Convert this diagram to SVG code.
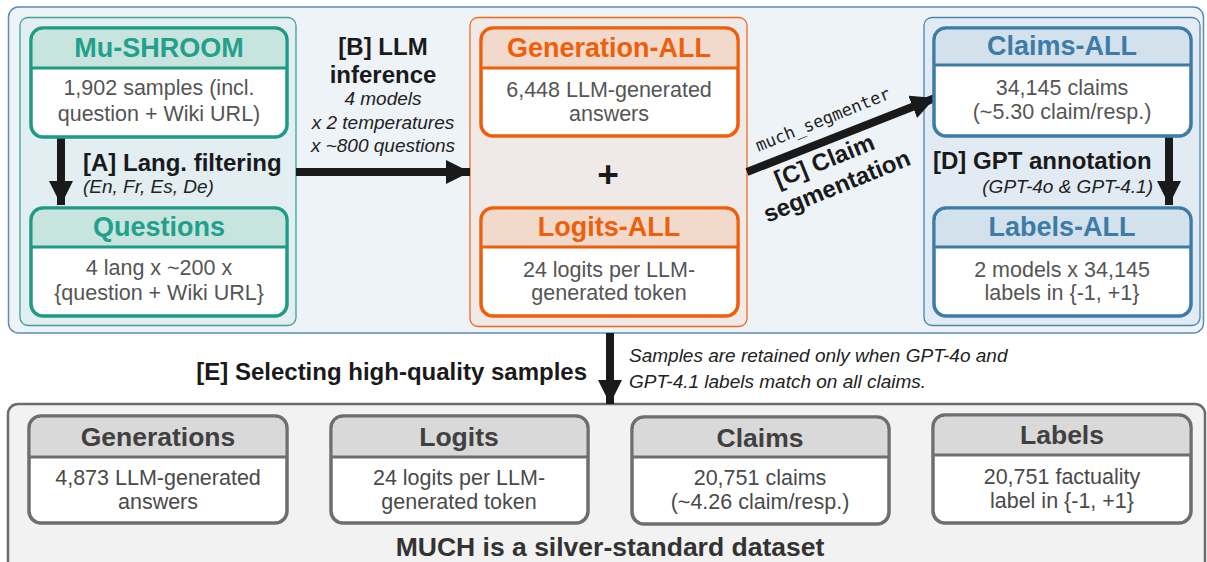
<svg xmlns="http://www.w3.org/2000/svg" width="1207" height="562" viewBox="0 0 1207 562">
<defs>
<style>
.t{font-family:"Liberation Sans",Arial,sans-serif;font-weight:bold;font-size:27px;text-anchor:middle}
.b{font-family:"Liberation Sans",Arial,sans-serif;font-size:21.5px;fill:#555;text-anchor:middle}
.lb{font-family:"Liberation Sans",Arial,sans-serif;font-weight:bold;font-size:24px;fill:#1a1a1a}
.it{font-family:"Liberation Sans",Arial,sans-serif;font-style:italic;font-size:19px;fill:#222}
.gt{font-family:"Liberation Sans",Arial,sans-serif;font-weight:bold;font-size:26.5px;fill:#404040;text-anchor:middle}
.gb{font-family:"Liberation Sans",Arial,sans-serif;font-size:21.5px;fill:#4a4a4a;text-anchor:middle}
.tealN{fill:#fff;stroke:#1f9a84;stroke-width:3.5}
.tealH{fill:#c7e4df}
.orN{fill:#fff;stroke:#ef5f0a;stroke-width:3.5}
.orH{fill:#f1d9cc}
.blN{fill:#fff;stroke:#3e7ca8;stroke-width:3.5}
.blH{fill:#d3e1ec}
.grN{fill:#fff;stroke:#6e6e6e;stroke-width:3.5}
.grH{fill:#d9d9d9}
.conn{stroke:#1a1a1a;stroke-width:8;fill:none}
</style>
<marker id="ah" viewBox="0 0 10 10" refX="10" refY="5" markerWidth="3" markerHeight="3" orient="auto" markerUnits="strokeWidth">
<path d="M0,0 L10,5 L0,10 z" fill="#1a1a1a"/>
</marker>
</defs>
<rect width="1207" height="562" fill="#fff"/>

<!-- containers -->
<rect x="8.5" y="7" width="1195" height="326" rx="10" fill="#eef3f8" stroke="#5b8db5" stroke-width="1.5"/>
<rect x="20" y="17.5" width="276" height="308" rx="8" fill="#e2eef2" stroke="#3aa396" stroke-width="1.3"/>
<rect x="470" y="17.5" width="277" height="309" rx="8" fill="#efe9e8" stroke="#f06a1f" stroke-width="1.3"/>
<rect x="924" y="17.5" width="276" height="308" rx="8" fill="#e2ebf3" stroke="#4a86b0" stroke-width="1.3"/>
<rect x="8" y="404" width="1197" height="175" rx="10" fill="#f2f2f2" stroke="#6b6b6b" stroke-width="2.5"/>

<!-- connectors -->
<g id="connectors">
<line class="conn" x1="61" y1="138" x2="61" y2="205" marker-end="url(#ah)"/>
<line class="conn" x1="296" y1="172" x2="470" y2="172" marker-end="url(#ah)"/>
<line class="conn" x1="747" y1="172" x2="935" y2="98" marker-end="url(#ah)"/>
<line class="conn" x1="1169" y1="136" x2="1169" y2="205" marker-end="url(#ah)"/>
<line class="conn" x1="610" y1="333" x2="610" y2="404" marker-end="url(#ah)"/>
</g>

<!-- labels -->
<g id="labelA">
<text class="lb" x="83" y="171">[A] Lang. filtering</text>
<text class="it" x="83" y="193">(En, Fr, Es, De)</text>
</g>
<g id="labelB">
<text class="lb" x="383" y="55" text-anchor="middle">[B] LLM</text>
<text class="lb" x="383" y="83" text-anchor="middle">inference</text>
<text class="it" x="383" y="105" text-anchor="middle">4 models</text>
<text class="it" x="383" y="129" text-anchor="middle">x 2 temperatures</text>
<text class="it" x="383" y="152" text-anchor="middle">x ~800 questions</text>
</g>
<g id="labelC" transform="translate(825,125) rotate(-22)">
<text x="0" y="0" text-anchor="middle" font-family="'DejaVu Sans Mono','Liberation Mono',monospace" font-size="17" fill="#222">much_segmenter</text>
<text class="lb" x="-14" y="41" text-anchor="middle">[C] Claim</text>
<text class="lb" x="-12" y="69" text-anchor="middle">segmentation</text>
</g>
<g id="labelD">
<text class="lb" x="933" y="169">[D] GPT annotation</text>
<text class="it" x="1153" y="193" text-anchor="end">(GPT-4o &amp; GPT-4.1)</text>
</g>
<g id="labelE">
<text class="lb" x="587" y="380" text-anchor="end">[E] Selecting high-quality samples</text>
<text class="it" x="629" y="362">Samples are retained only when GPT-4o and</text>
<text class="it" x="629" y="388">GPT-4.1 labels match on all claims.</text>
</g>

<!-- top nodes -->
<g id="mushroom">
<rect class="tealN" x="31" y="28" width="256" height="109" rx="12"/>
<path class="tealH" d="M43,29.8 H275 A10.2,10.2 0 0 1 285.2,40 V67 H32.8 V40 A10.2,10.2 0 0 1 43,29.8 Z"/>
<line x1="31" y1="68" x2="287" y2="68" stroke="#1f9a84" stroke-width="3"/>
<text class="t" x="159" y="57" fill="#22a08a">Mu-SHROOM</text>
<text class="b" x="159" y="95">1,902 samples (incl.</text>
<text class="b" x="159" y="121">question + Wiki URL)</text>
</g>
<g id="questions">
<rect class="tealN" x="31" y="208" width="256" height="108" rx="12"/>
<path class="tealH" d="M43,209.8 H275 A10.2,10.2 0 0 1 285.2,220 V246 H32.8 V220 A10.2,10.2 0 0 1 43,209.8 Z"/>
<line x1="31" y1="247" x2="287" y2="247" stroke="#1f9a84" stroke-width="3"/>
<text class="t" x="159" y="236" fill="#22a08a">Questions</text>
<text class="b" x="159" y="275">4 lang x ~200 x</text>
<text class="b" x="159" y="300">{question + Wiki URL}</text>
</g>
<g id="generation-all">
<rect class="orN" x="481" y="28" width="257" height="108" rx="12"/>
<path class="orH" d="M493,29.8 H726 A10.2,10.2 0 0 1 736.2,40 V67 H482.8 V40 A10.2,10.2 0 0 1 493,29.8 Z"/>
<line x1="481" y1="68" x2="738" y2="68" stroke="#ef5f0a" stroke-width="3"/>
<text class="t" x="609" y="57" fill="#ef5f0a">Generation-ALL</text>
<text class="b" x="609" y="97">6,448 LLM-generated</text>
<text class="b" x="609" y="121">answers</text>
</g>
<g id="plus">
<text x="608" y="187" text-anchor="middle" font-family="'Liberation Sans',Arial,sans-serif" font-weight="bold" font-size="37" fill="#1a1a1a">+</text>
</g>
<g id="logits-all">
<rect class="orN" x="481" y="208" width="257" height="108" rx="12"/>
<path class="orH" d="M493,209.8 H726 A10.2,10.2 0 0 1 736.2,220 V246 H482.8 V220 A10.2,10.2 0 0 1 493,209.8 Z"/>
<line x1="481" y1="247" x2="738" y2="247" stroke="#ef5f0a" stroke-width="3"/>
<text class="t" x="609" y="236" fill="#ef5f0a">Logits-ALL</text>
<text class="b" x="609" y="277">24 logits per LLM-</text>
<text class="b" x="609" y="300">generated token</text>
</g>
<g id="claims-all">
<rect class="blN" x="934" y="28" width="257" height="108" rx="12"/>
<path class="blH" d="M946,29.8 H1179 A10.2,10.2 0 0 1 1189.2,40 V64 H935.8 V40 A10.2,10.2 0 0 1 946,29.8 Z"/>
<line x1="934" y1="65" x2="1191" y2="65" stroke="#3e7ca8" stroke-width="3"/>
<text class="t" x="1062" y="55" fill="#3e7ca8">Claims-ALL</text>
<text class="b" x="1062" y="95">34,145 claims</text>
<text class="b" x="1062" y="119">(~5.30 claim/resp.)</text>
</g>
<g id="labels-all">
<rect class="blN" x="934" y="208" width="257" height="108" rx="12"/>
<path class="blH" d="M946,209.8 H1179 A10.2,10.2 0 0 1 1189.2,220 V246 H935.8 V220 A10.2,10.2 0 0 1 946,209.8 Z"/>
<line x1="934" y1="247" x2="1191" y2="247" stroke="#3e7ca8" stroke-width="3"/>
<text class="t" x="1062" y="236" fill="#3e7ca8">Labels-ALL</text>
<text class="b" x="1062" y="277">2 models x 34,145</text>
<text class="b" x="1062" y="300">labels in {-1, +1}</text>
</g>

<!-- bottom nodes -->
<g id="generations">
<rect class="grN" x="29" y="416" width="258" height="107" rx="12"/>
<path class="grH" d="M41,417.8 H275 A10.2,10.2 0 0 1 285.2,428 V456 H30.8 V428 A10.2,10.2 0 0 1 41,417.8 Z"/>
<line x1="29" y1="457" x2="287" y2="457" stroke="#6e6e6e" stroke-width="3"/>
<text class="gt" x="158" y="446">Generations</text>
<text class="gb" x="158" y="485">4,873 LLM-generated</text>
<text class="gb" x="158" y="509">answers</text>
</g>
<g id="logits">
<rect class="grN" x="331" y="416" width="257" height="107" rx="12"/>
<path class="grH" d="M343,417.8 H576 A10.2,10.2 0 0 1 586.2,428 V456 H332.8 V428 A10.2,10.2 0 0 1 343,417.8 Z"/>
<line x1="331" y1="457" x2="588" y2="457" stroke="#6e6e6e" stroke-width="3"/>
<text class="gt" x="459" y="446">Logits</text>
<text class="gb" x="459" y="485">24 logits per LLM-</text>
<text class="gb" x="459" y="509">generated token</text>
</g>
<g id="claims">
<rect class="grN" x="632" y="417" width="257" height="107" rx="12"/>
<path class="grH" d="M644,418.8 H877 A10.2,10.2 0 0 1 887.2,429 V456 H633.8 V429 A10.2,10.2 0 0 1 644,418.8 Z"/>
<line x1="632" y1="457" x2="889" y2="457" stroke="#6e6e6e" stroke-width="3"/>
<text class="gt" x="760" y="447">Claims</text>
<text class="gb" x="760" y="485">20,751 claims</text>
<text class="gb" x="760" y="509">(~4.26 claim/resp.)</text>
</g>
<g id="labels">
<rect class="grN" x="933" y="415" width="258" height="108" rx="12"/>
<path class="grH" d="M945,416.8 H1179 A10.2,10.2 0 0 1 1189.2,427 V454 H934.8 V427 A10.2,10.2 0 0 1 945,416.8 Z"/>
<line x1="933" y1="455" x2="1191" y2="455" stroke="#6e6e6e" stroke-width="3"/>
<text class="gt" x="1062" y="444">Labels</text>
<text class="gb" x="1062" y="484">20,751 factuality</text>
<text class="gb" x="1062" y="508">label in {-1, +1}</text>
</g>
<g id="caption">
<text x="610" y="556" text-anchor="middle" font-family="'Liberation Sans',Arial,sans-serif" font-weight="bold" font-size="26.5" fill="#333">MUCH is a silver-standard dataset</text>
</g>
</svg>
